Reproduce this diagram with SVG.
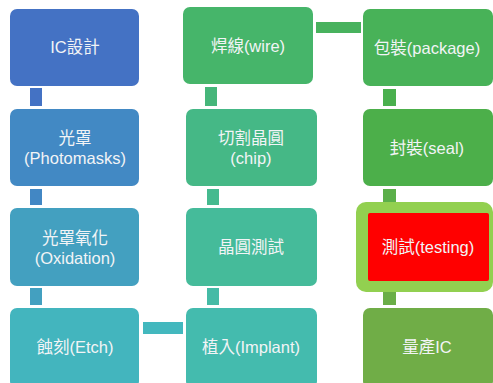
<svg xmlns="http://www.w3.org/2000/svg" width="493" height="383" viewBox="0 0 493 383">
<style>
text{font-family:"Liberation Sans","Noto Sans CJK TC",sans-serif;font-size:16.5px;fill:#F2F4F6;text-anchor:middle}
</style>
<rect width="493" height="383" fill="#FFFFFF"/>
<g id="connectors">
<rect x="30" y="88" width="12" height="18" fill="#4472C4"/>
<rect x="30" y="189" width="12" height="16" fill="#4287C4"/>
<rect x="30" y="288" width="12" height="17" fill="#43A0C0"/>
<rect x="143" y="322" width="40" height="12" fill="#43B8BE"/>
<rect x="207" y="288" width="12" height="17" fill="#45BBA6"/>
<rect x="207" y="189" width="12" height="16" fill="#45BA8F"/>
<rect x="205" y="87" width="12" height="19" fill="#46B67A"/>
<rect x="316" y="22" width="45" height="11" fill="#48B25E"/>
<rect x="383" y="89" width="13" height="17" fill="#4AB04E"/>
<rect x="383" y="189" width="13" height="13" fill="#5BAF4A"/>
<rect x="383" y="292" width="13" height="13" fill="#6AAE47"/>
</g>
<g id="n1"><rect x="10" y="9" width="129" height="77" rx="7" fill="#4472C4"/><text x="75" y="53">IC設計</text></g>
<g id="n2"><rect x="10" y="109" width="129" height="77" rx="7" fill="#4289C4"/><text x="75" y="144">光罩</text><text x="75" y="164">(Photomasks)</text></g>
<g id="n3"><rect x="10" y="208" width="129" height="78" rx="7" fill="#43A0C0"/><text x="75" y="244">光罩氧化</text><text x="75" y="264">(Oxidation)</text></g>
<g id="n4"><rect x="10" y="308" width="129" height="80" rx="7" fill="#43B5BE"/><text x="75" y="353">蝕刻(Etch)</text></g>
<g id="n5"><rect x="186" y="308" width="131" height="80" rx="7" fill="#44BBAE"/><text x="251" y="353">植入(Implant)</text></g>
<g id="n6"><rect x="186" y="208" width="131" height="78" rx="7" fill="#45BB9A"/><text x="251" y="253">晶圓測試</text></g>
<g id="n7"><rect x="186" y="109" width="131" height="77" rx="7" fill="#45B886"/><text x="251" y="144">切割晶圓</text><text x="251" y="164">(chip)</text></g>
<g id="n8"><rect x="183" y="7" width="130" height="77" rx="7" fill="#46B56A"/><text x="248" y="52">焊線(wire)</text></g>
<g id="n9"><rect x="363" y="9" width="130" height="77" rx="7" fill="#48B258"/><text x="427" y="54">包裝(package)</text></g>
<g id="n10"><rect x="363" y="109" width="130" height="77" rx="7" fill="#4CAF4A"/><text x="427" y="154">封裝(seal)</text></g>
<g id="n11"><rect x="356" y="202" width="137" height="90" rx="10" fill="#92D050"/><rect x="368" y="213" width="121" height="68" rx="2" fill="#FF0000"/><text x="428" y="253">測試(testing)</text></g>
<g id="n12"><rect x="363" y="308" width="130" height="80" rx="7" fill="#70AD47"/><text x="427" y="353">量產IC</text></g>
</svg>
